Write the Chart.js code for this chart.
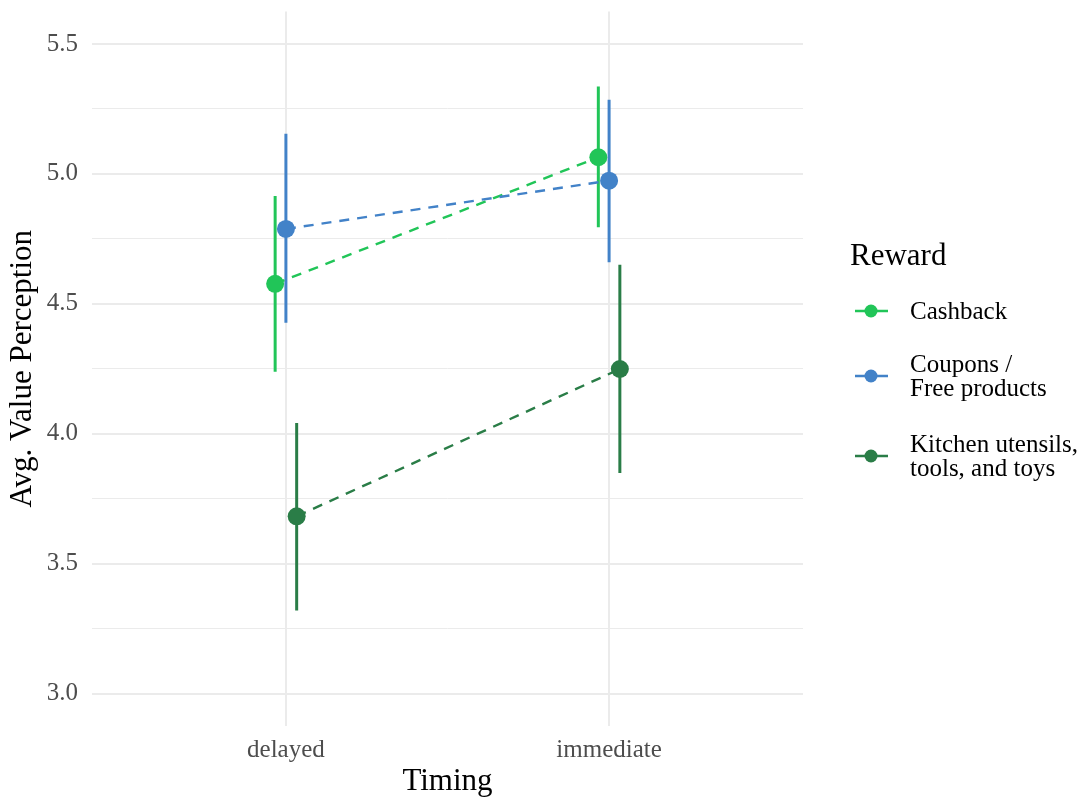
<!DOCTYPE html>
<html lang="en">
<head>
    <meta charset="UTF-8">
    <script src="https://cdn.jsdelivr.net/npm/chart.js@4.4.1/dist/chart.umd.min.js"></script>
    <title>Value perception by timing</title>
    <style>
        body { margin: 0; background: #ffffff; }
        #wrap { width: 1086px; height: 799px; }
    </style>
</head>
<body>
    <div id="wrap">
        <canvas id="valueChart" width="1086" height="799"></canvas>
    </div>

    <script>
        // categories on the x axis
        const timing = ["delayed", "immediate"]
        const rewards = ["Cashback", "Coupons /\nFree products", "Kitchen utensils,\ntools, and toys"]

        // means and interval ends, one value per timing
        const cashbackMean = [4.577, 5.064]
        const cashbackLow = [4.238, 4.795]
        const cashbackHigh = [4.915, 5.336]

        const couponsMean = [4.788, 4.974]
        const couponsLow = [4.427, 4.660]
        const couponsHigh = [5.154, 5.285]

        const kitchenMean = [3.682, 4.249]
        const kitchenLow = [3.320, 3.849]
        const kitchenHigh = [4.041, 4.650]

        const yTicks = [3.0, 3.5, 4.0, 4.5, 5.0, 5.5]

        const colors = ["#21c558", "#4282c8", "#2a7d47"]
        const dodge = [-0.0333, 0, 0.0333]
        const serif = "'Liberation Serif', 'Times New Roman', serif"

        const groups = [
            { mean: cashbackMean, low: cashbackLow, high: cashbackHigh },
            { mean: couponsMean, low: couponsLow, high: couponsHigh },
            { mean: kitchenMean, low: kitchenLow, high: kitchenHigh }
        ]

        let datasets = []
        groups.forEach(function (g, i) {
            let bars = []
            let line = []
            timing.forEach(function (t, j) {
                let x = j + 1 + dodge[i]
                if (j > 0) bars.push({ x: j + 0.5, y: null })
                bars.push({ x: x, y: g.low[j] })
                bars.push({ x: x, y: g.high[j] })
                line.push({ x: x, y: g.mean[j] })
            })
            // vertical interval
            datasets.push({
                type: "line", data: bars, order: 30 - i,
                borderColor: colors[i], borderWidth: 3, pointRadius: 0,
                spanGaps: false, borderCapStyle: "butt"
            })
            // dashed connector
            datasets.push({
                type: "line", data: line, order: 20 - i,
                borderColor: colors[i], borderWidth: 2.4, borderDash: [10, 8],
                pointRadius: 0, tension: 0
            })
            // the mean points
            datasets.push({
                type: "line", data: line, order: 10 - i, showLine: false,
                label: rewards[i], isKey: true,
                backgroundColor: colors[i], pointBackgroundColor: colors[i],
                pointBorderWidth: 0, pointRadius: 9, pointHoverRadius: 9
            })
        })

        // legend on the right, drawn like ggplot's guide
        const rewardLegend = {
            id: "rewardLegend",
            afterDraw(chart) {
                const ctx = chart.ctx
                ctx.save()
                ctx.fillStyle = "#000000"
                ctx.textAlign = "left"
                ctx.textBaseline = "alphabetic"
                ctx.font = "31px " + serif
                ctx.fillText("Reward", 850, 265)

                const keyY = [311, 376, 456]
                const lineH = 24
                ctx.font = "25px " + serif
                chart.data.datasets.filter(d => d.isKey).forEach(function (d, i) {
                    let y = keyY[i]
                    ctx.strokeStyle = d.backgroundColor
                    ctx.lineWidth = 2.5
                    ctx.beginPath()
                    ctx.moveTo(855, y)
                    ctx.lineTo(888, y)
                    ctx.stroke()
                    ctx.fillStyle = d.backgroundColor
                    ctx.beginPath()
                    ctx.arc(871, y, 6.5, 0, Math.PI * 2)
                    ctx.fill()

                    let lines = d.label.split("\n")
                    let first = y + 7.5 - (lines.length - 1) * lineH / 2
                    ctx.fillStyle = "#000000"
                    lines.forEach(function (txt, k) {
                        ctx.fillText(txt, 910, first + k * lineH)
                    })
                })
                ctx.restore()
            }
        }

        // keep the plot panel at fixed edges, no room reserved for label overflow
        function fixPadding(scale) {
            scale.paddingTop = 0
            scale.paddingBottom = 0
            scale.paddingLeft = 0
            scale.paddingRight = 0
        }

        new Chart("valueChart", {
            data: { datasets: datasets },
            plugins: [rewardLegend],
            options: {
                responsive: false,
                animation: false,
                events: [],
                layout: { padding: { left: 0, top: 11.5, right: 283, bottom: 0 } },
                plugins: {
                    legend: { display: false },
                    tooltip: { enabled: false }
                },
                scales: {
                    x: {
                        type: "linear",
                        min: 0.4,
                        max: 2.6,
                        afterBuildTicks: function (scale) {
                            scale.ticks = timing.map((t, j) => ({ value: j + 1 }))
                        },
                        afterFit: function (scale) {
                            scale.height = 73
                            fixPadding(scale)
                        },
                        ticks: {
                            padding: 9,
                            color: "#4d4d4d",
                            font: { family: serif, size: 25 },
                            callback: function (v) { return timing[Math.round(v) - 1] }
                        },
                        grid: { color: "#ebebeb", lineWidth: 2, drawTicks: false },
                        border: { display: false },
                        title: {
                            display: true,
                            text: "Timing",
                            color: "#000000",
                            font: { family: serif, size: 31, lineHeight: 1.13 },
                            padding: { top: 0, bottom: 0 }
                        }
                    },
                    y: {
                        type: "linear",
                        min: 2.875,
                        max: 5.625,
                        afterBuildTicks: function (scale) {
                            let list = []
                            yTicks.forEach(function (v, k) {
                                list.push({ value: v })
                                if (k < yTicks.length - 1) list.push({ value: (v + yTicks[k + 1]) / 2 })
                            })
                            scale.ticks = list
                        },
                        afterFit: function (scale) {
                            scale.width = 92
                            fixPadding(scale)
                        },
                        ticks: {
                            padding: 14,
                            color: "#4d4d4d",
                            font: { family: serif, size: 25 },
                            callback: function (v) {
                                return yTicks.some(t => Math.abs(t - v) < 1e-6) ? v.toFixed(1) : ""
                            }
                        },
                        grid: {
                            drawTicks: false,
                            color: "#ebebeb",
                            lineWidth: function (c) {
                                return yTicks.some(t => Math.abs(t - c.tick.value) < 1e-6) ? 2 : 1
                            }
                        },
                        border: { display: false },
                        title: {
                            display: true,
                            text: "Avg. Value Perception",
                            color: "#000000",
                            font: { family: serif, size: 31, lineHeight: 1.13 },
                            padding: { top: 5, bottom: 0 }
                        }
                    }
                }
            }
        })
    </script>
</body>
</html>
